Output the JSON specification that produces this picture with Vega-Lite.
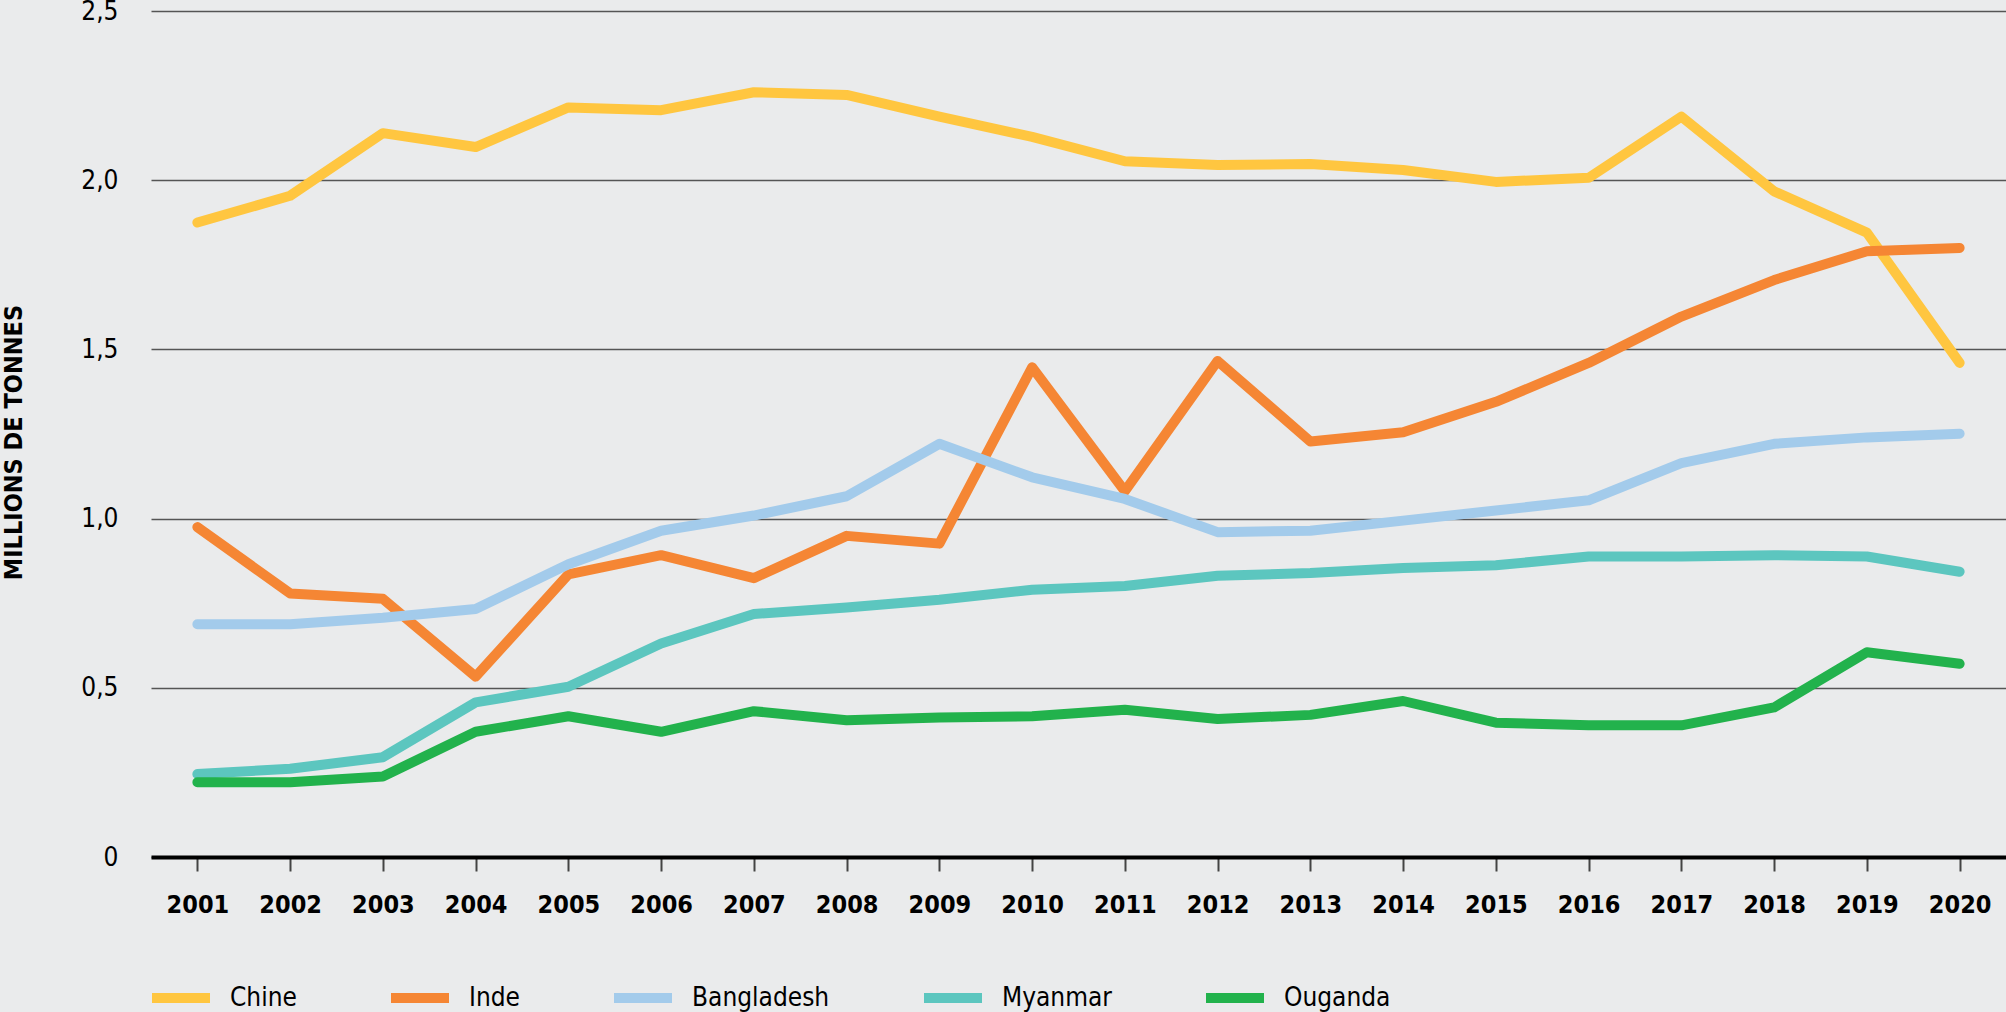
{
  "$schema": "https://vega.github.io/schema/vega-lite/v6.json",
  "width": 1855,
  "height": 846,
  "autosize": {"type": "none"},
  "padding": {"left": 151, "top": 11, "right": 0, "bottom": 155},
  "background": "#EAEBEC",
  "config": {
    "view": {"stroke": null},
    "font": "DejaVu Sans Condensed, sans-serif"
  },
  "data": {
    "values": [
      {"annee": "2001", "pays": "Chine", "valeur": 1.875},
      {"annee": "2002", "pays": "Chine", "valeur": 1.954},
      {"annee": "2003", "pays": "Chine", "valeur": 2.139},
      {"annee": "2004", "pays": "Chine", "valeur": 2.098},
      {"annee": "2005", "pays": "Chine", "valeur": 2.215},
      {"annee": "2006", "pays": "Chine", "valeur": 2.207},
      {"annee": "2007", "pays": "Chine", "valeur": 2.26},
      {"annee": "2008", "pays": "Chine", "valeur": 2.252},
      {"annee": "2009", "pays": "Chine", "valeur": 2.188},
      {"annee": "2010", "pays": "Chine", "valeur": 2.128},
      {"annee": "2011", "pays": "Chine", "valeur": 2.056},
      {"annee": "2012", "pays": "Chine", "valeur": 2.045},
      {"annee": "2013", "pays": "Chine", "valeur": 2.048},
      {"annee": "2014", "pays": "Chine", "valeur": 2.03},
      {"annee": "2015", "pays": "Chine", "valeur": 1.995},
      {"annee": "2016", "pays": "Chine", "valeur": 2.007},
      {"annee": "2017", "pays": "Chine", "valeur": 2.188},
      {"annee": "2018", "pays": "Chine", "valeur": 1.967},
      {"annee": "2019", "pays": "Chine", "valeur": 1.845},
      {"annee": "2020", "pays": "Chine", "valeur": 1.46},
      {"annee": "2001", "pays": "Inde", "valeur": 0.975},
      {"annee": "2002", "pays": "Inde", "valeur": 0.779},
      {"annee": "2003", "pays": "Inde", "valeur": 0.763},
      {"annee": "2004", "pays": "Inde", "valeur": 0.533},
      {"annee": "2005", "pays": "Inde", "valeur": 0.835},
      {"annee": "2006", "pays": "Inde", "valeur": 0.892},
      {"annee": "2007", "pays": "Inde", "valeur": 0.824},
      {"annee": "2008", "pays": "Inde", "valeur": 0.949},
      {"annee": "2009", "pays": "Inde", "valeur": 0.926},
      {"annee": "2010", "pays": "Inde", "valeur": 1.447},
      {"annee": "2011", "pays": "Inde", "valeur": 1.081},
      {"annee": "2012", "pays": "Inde", "valeur": 1.466},
      {"annee": "2013", "pays": "Inde", "valeur": 1.228},
      {"annee": "2014", "pays": "Inde", "valeur": 1.255},
      {"annee": "2015", "pays": "Inde", "valeur": 1.345},
      {"annee": "2016", "pays": "Inde", "valeur": 1.46},
      {"annee": "2017", "pays": "Inde", "valeur": 1.597},
      {"annee": "2018", "pays": "Inde", "valeur": 1.705},
      {"annee": "2019", "pays": "Inde", "valeur": 1.79},
      {"annee": "2020", "pays": "Inde", "valeur": 1.8},
      {"annee": "2001", "pays": "Bangladesh", "valeur": 0.688},
      {"annee": "2002", "pays": "Bangladesh", "valeur": 0.688},
      {"annee": "2003", "pays": "Bangladesh", "valeur": 0.707},
      {"annee": "2004", "pays": "Bangladesh", "valeur": 0.733},
      {"annee": "2005", "pays": "Bangladesh", "valeur": 0.865},
      {"annee": "2006", "pays": "Bangladesh", "valeur": 0.964},
      {"annee": "2007", "pays": "Bangladesh", "valeur": 1.009},
      {"annee": "2008", "pays": "Bangladesh", "valeur": 1.066},
      {"annee": "2009", "pays": "Bangladesh", "valeur": 1.221},
      {"annee": "2010", "pays": "Bangladesh", "valeur": 1.122},
      {"annee": "2011", "pays": "Bangladesh", "valeur": 1.058},
      {"annee": "2012", "pays": "Bangladesh", "valeur": 0.96},
      {"annee": "2013", "pays": "Bangladesh", "valeur": 0.964},
      {"annee": "2014", "pays": "Bangladesh", "valeur": 0.994},
      {"annee": "2015", "pays": "Bangladesh", "valeur": 1.024},
      {"annee": "2016", "pays": "Bangladesh", "valeur": 1.054},
      {"annee": "2017", "pays": "Bangladesh", "valeur": 1.164},
      {"annee": "2018", "pays": "Bangladesh", "valeur": 1.221},
      {"annee": "2019", "pays": "Bangladesh", "valeur": 1.24},
      {"annee": "2020", "pays": "Bangladesh", "valeur": 1.251},
      {"annee": "2001", "pays": "Myanmar", "valeur": 0.245},
      {"annee": "2002", "pays": "Myanmar", "valeur": 0.261},
      {"annee": "2003", "pays": "Myanmar", "valeur": 0.295},
      {"annee": "2004", "pays": "Myanmar", "valeur": 0.457},
      {"annee": "2005", "pays": "Myanmar", "valeur": 0.503},
      {"annee": "2006", "pays": "Myanmar", "valeur": 0.631},
      {"annee": "2007", "pays": "Myanmar", "valeur": 0.718},
      {"annee": "2008", "pays": "Myanmar", "valeur": 0.737},
      {"annee": "2009", "pays": "Myanmar", "valeur": 0.76},
      {"annee": "2010", "pays": "Myanmar", "valeur": 0.79},
      {"annee": "2011", "pays": "Myanmar", "valeur": 0.801},
      {"annee": "2012", "pays": "Myanmar", "valeur": 0.831},
      {"annee": "2013", "pays": "Myanmar", "valeur": 0.839},
      {"annee": "2014", "pays": "Myanmar", "valeur": 0.854},
      {"annee": "2015", "pays": "Myanmar", "valeur": 0.862},
      {"annee": "2016", "pays": "Myanmar", "valeur": 0.888},
      {"annee": "2017", "pays": "Myanmar", "valeur": 0.888},
      {"annee": "2018", "pays": "Myanmar", "valeur": 0.892},
      {"annee": "2019", "pays": "Myanmar", "valeur": 0.888},
      {"annee": "2020", "pays": "Myanmar", "valeur": 0.843},
      {"annee": "2001", "pays": "Ouganda", "valeur": 0.221},
      {"annee": "2002", "pays": "Ouganda", "valeur": 0.221},
      {"annee": "2003", "pays": "Ouganda", "valeur": 0.238},
      {"annee": "2004", "pays": "Ouganda", "valeur": 0.37},
      {"annee": "2005", "pays": "Ouganda", "valeur": 0.416},
      {"annee": "2006", "pays": "Ouganda", "valeur": 0.37},
      {"annee": "2007", "pays": "Ouganda", "valeur": 0.431},
      {"annee": "2008", "pays": "Ouganda", "valeur": 0.404},
      {"annee": "2009", "pays": "Ouganda", "valeur": 0.412},
      {"annee": "2010", "pays": "Ouganda", "valeur": 0.416},
      {"annee": "2011", "pays": "Ouganda", "valeur": 0.435},
      {"annee": "2012", "pays": "Ouganda", "valeur": 0.408},
      {"annee": "2013", "pays": "Ouganda", "valeur": 0.42},
      {"annee": "2014", "pays": "Ouganda", "valeur": 0.461},
      {"annee": "2015", "pays": "Ouganda", "valeur": 0.397},
      {"annee": "2016", "pays": "Ouganda", "valeur": 0.389},
      {"annee": "2017", "pays": "Ouganda", "valeur": 0.389},
      {"annee": "2018", "pays": "Ouganda", "valeur": 0.442},
      {"annee": "2019", "pays": "Ouganda", "valeur": 0.605},
      {"annee": "2020", "pays": "Ouganda", "valeur": 0.571}
    ]
  },
  "mark": {"type": "line", "strokeWidth": 10, "strokeCap": "round", "strokeJoin": "round"},
  "encoding": {
    "x": {
      "field": "annee",
      "type": "ordinal",
      "scale": {"type": "point", "padding": 0.5},
      "axis": {
        "title": null,
        "labelAngle": 0,
        "labelFontSize": 25,
        "labelFontWeight": "bold",
        "labelColor": "#000000",
        "labelPadding": 21,
        "tickSize": 14,
        "tickWidth": 2,
        "tickColor": "#444444",
        "domainColor": "#000000",
        "domainWidth": 4,
        "grid": false
      }
    },
    "y": {
      "field": "valeur",
      "type": "quantitative",
      "scale": {"domain": [0, 2.5], "nice": false},
      "axis": {
        "values": [0, 0.5, 1, 1.5, 2, 2.5],
        "labelExpr": "datum.value == 0 ? '0' : replace(format(datum.value, '.1f'), '.', ',')",
        "labelFontSize": 26,
        "labelColor": "#000000",
        "labelPadding": 33,
        "ticks": false,
        "domain": false,
        "grid": true,
        "gridColor": "#555555",
        "gridWidth": 1.5,
        "title": "MILLIONS DE TONNES",
        "titleFontSize": 25,
        "titleFontWeight": "bold",
        "titleColor": "#000000",
        "titleAngle": 270,
        "titleAlign": "center",
        "titleBaseline": "top",
        "titleX": -150,
        "titleY": 431
      }
    },
    "color": {
      "field": "pays",
      "type": "nominal",
      "scale": {
        "domain": ["Chine", "Inde", "Bangladesh", "Myanmar", "Ouganda"],
        "range": ["#FFC640", "#F58634", "#A3CBEB", "#5CC6BF", "#22B24C"]
      },
      "legend": {
        "title": null,
        "orient": "none",
        "legendX": -4,
        "legendY": 953,
        "direction": "horizontal",
        "padding": 0,
        "columnPadding": 74,
        "labelOffset": 15,
        "labelFontSize": 26,
        "labelColor": "#000000",
        "symbolType": "stroke",
        "symbolSize": 3364,
        "symbolStrokeWidth": 10
      }
    }
  }
}
